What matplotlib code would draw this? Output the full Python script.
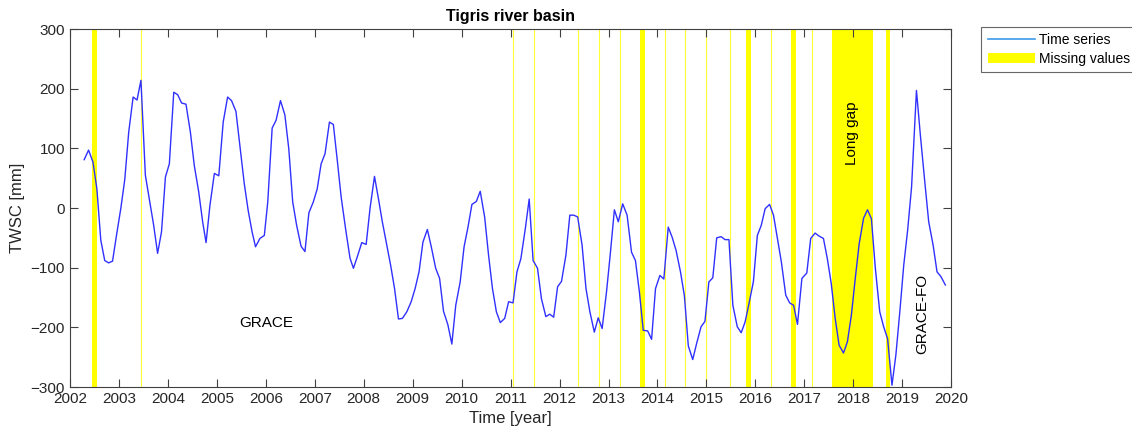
import numpy as np
import matplotlib
matplotlib.use("Agg")
import matplotlib.pyplot as plt
from matplotlib.lines import Line2D
from matplotlib.patches import Patch

plt.rcParams["font.family"] = ["Liberation Sans", "DejaVu Sans"]

# TWSC time series (decimal year, mm)
years = [
    2002.29, 2002.38, 2002.47, 2002.55, 2002.63, 2002.71, 2002.79, 2002.87, 2002.95,
    2003.04, 2003.12, 2003.20, 2003.29, 2003.37, 2003.45, 2003.54, 2003.62, 2003.71,
    2003.79, 2003.87, 2003.95, 2004.03, 2004.12, 2004.20, 2004.28, 2004.37, 2004.46,
    2004.54, 2004.63, 2004.71, 2004.78, 2004.86, 2004.95, 2005.04, 2005.13, 2005.22,
    2005.30, 2005.39, 2005.47, 2005.56, 2005.64, 2005.72, 2005.79, 2005.88, 2005.97,
    2006.04, 2006.13, 2006.21, 2006.30, 2006.39, 2006.47, 2006.55, 2006.63, 2006.72,
    2006.80, 2006.88, 2006.97, 2007.05, 2007.13, 2007.21, 2007.30, 2007.38, 2007.46,
    2007.54, 2007.63, 2007.72, 2007.79, 2007.88, 2007.96, 2008.05, 2008.13, 2008.22,
    2008.30, 2008.38, 2008.47, 2008.55, 2008.63, 2008.71, 2008.79, 2008.88, 2008.97,
    2009.05, 2009.13, 2009.21, 2009.30, 2009.38, 2009.47, 2009.55, 2009.63, 2009.72,
    2009.80, 2009.88, 2009.97, 2010.05, 2010.13, 2010.21, 2010.30, 2010.38, 2010.47,
    2010.55, 2010.63, 2010.71, 2010.79, 2010.88, 2010.96, 2011.05, 2011.13, 2011.21,
    2011.30, 2011.38, 2011.46, 2011.55, 2011.63, 2011.72, 2011.80, 2011.88, 2011.96,
    2012.04, 2012.13, 2012.21, 2012.29, 2012.37, 2012.46, 2012.54, 2012.62, 2012.71,
    2012.79, 2012.87, 2012.96, 2013.04, 2013.12, 2013.20, 2013.29, 2013.38, 2013.47,
    2013.55, 2013.63, 2013.71, 2013.80, 2013.88, 2013.96, 2014.05, 2014.13, 2014.22,
    2014.30, 2014.38, 2014.47, 2014.55, 2014.63, 2014.72, 2014.80, 2014.89, 2014.97,
    2015.05, 2015.13, 2015.21, 2015.30, 2015.38, 2015.46, 2015.54, 2015.63, 2015.71,
    2015.79, 2015.87, 2015.96, 2016.04, 2016.12, 2016.20, 2016.29, 2016.37, 2016.45,
    2016.53, 2016.62, 2016.70, 2016.78, 2016.86, 2016.95, 2017.05, 2017.13, 2017.22,
    2017.30, 2017.39, 2017.47, 2017.55, 2017.63, 2017.71, 2017.80, 2017.88, 2017.96,
    2018.04, 2018.12, 2018.21, 2018.29, 2018.37, 2018.45, 2018.54, 2018.62, 2018.70,
    2018.79, 2018.87, 2018.95, 2019.03, 2019.11, 2019.19, 2019.29, 2019.37, 2019.46,
    2019.54, 2019.63, 2019.71, 2019.79, 2019.88,
]
twsc = [
    81, 97, 77, 32, -54, -88, -92, -89, -46,
    0, 48, 127, 186, 181, 214, 55, 15, -29,
    -76, -40, 52, 74, 194, 190, 176, 174, 127,
    71, 27, -23, -58, 5, 58, 54, 144, 186,
    180, 162, 105, 41, -4, -40, -65, -51, -46,
    10, 134, 147, 180, 156, 99, 10, -29, -64,
    -73, -8, 10, 32, 74, 91, 144, 140, 80,
    18, -35, -84, -101, -79, -58, -61, 0, 53,
    16, -23, -62, -96, -135, -186, -185, -174, -157,
    -135, -107, -57, -36, -65, -101, -118, -173, -196,
    -228, -163, -124, -65, -32, 6, 11, 28, -15,
    -79, -135, -174, -192, -185, -157, -159, -107, -85,
    -35, 15, -88, -101, -152, -182, -178, -183, -132,
    -123, -79, -12, -12, -15, -62, -135, -174, -208,
    -184, -202, -140, -74, -3, -23, 7, -12, -74,
    -88, -140, -205, -206, -220, -135, -113, -119, -32,
    -49, -71, -107, -147, -231, -254, -227, -199, -190,
    -124, -117, -50, -48, -53, -53, -163, -199, -209,
    -191, -160, -123, -46, -29, -1, 6, -12, -51,
    -90, -146, -159, -163, -195, -118, -109, -51, -42,
    -47, -51, -85, -127, -185, -230, -243, -224, -180,
    -118, -60, -17, -3, -18, -101, -174, -199, -219,
    -297, -246, -174, -96, -37, 35, 197, 122, 44,
    -23, -62, -107, -115, -129,
]

# missing months: single months drawn as thin lines, longer runs as bands
missing_single = [2003.46, 2011.05, 2011.48, 2012.38, 2012.81, 2013.23,
                  2014.16, 2014.57, 2014.99, 2015.48, 2016.32, 2017.16]
missing_start = [2002.45, 2013.64, 2015.81, 2016.73, 2017.57, 2018.66]
missing_end = [2002.56, 2013.75, 2015.91, 2016.82, 2018.40, 2018.75]

fig = plt.figure(figsize=(11.32, 4.37), dpi=100)
ax = fig.add_axes([0.0618, 0.1144, 0.7785, 0.8192])

for x in missing_single:
    ax.axvline(x, color="#ffff33", lw=0.8, zorder=1)
for a, b in zip(missing_start, missing_end):
    ax.axvspan(a, b, color="#ffff00", lw=0, zorder=1)

ax.plot(years, twsc, color="#3030ff", lw=1.0, zorder=3)

ax.text(2006.0, -193, "GRACE", fontsize=11, ha="center", va="center")
ax.text(2019.4, -178, "GRACE-FO", fontsize=11, ha="center", va="center", rotation=90)
ax.text(2017.98, 125, "Long gap", fontsize=11, ha="center", va="center", rotation=90)

ax.set_xlim(2002, 2020)
ax.set_ylim(-300, 300)
ax.set_xticks(np.arange(2002, 2021, 1))
ax.set_yticks(np.arange(-300, 301, 100))
ax.tick_params(direction="in", top=True, right=True, labelsize=11, length=5.5,
               color="#404040", labelcolor="#262626")
for s in ax.spines.values():
    s.set_color("#404040")
    s.set_linewidth(0.8)

ax.set_title("Tigris river basin", fontsize=11.5, fontweight="bold", pad=6)
ax.set_xlabel("Time [year]", fontsize=12, color="#262626")
ax.set_ylabel("TWSC [mm]", fontsize=12, color="#262626")

handles = [Line2D([0], [0], color="#3d9be9", lw=1.2),
           Patch(facecolor="#ffff00", edgecolor="none")]
leg = fig.legend(handles, ["Time series", "Missing values"], loc="upper left",
                 bbox_to_anchor=(0.867, 0.938), fontsize=10, frameon=True,
                 fancybox=False, borderpad=0.45, handlelength=3.4, handletextpad=0.3,
                 labelspacing=0.3, borderaxespad=0)
leg.get_frame().set_edgecolor("#404040")
leg.get_frame().set_linewidth(0.8)

fig.savefig("out.png", dpi=100)
